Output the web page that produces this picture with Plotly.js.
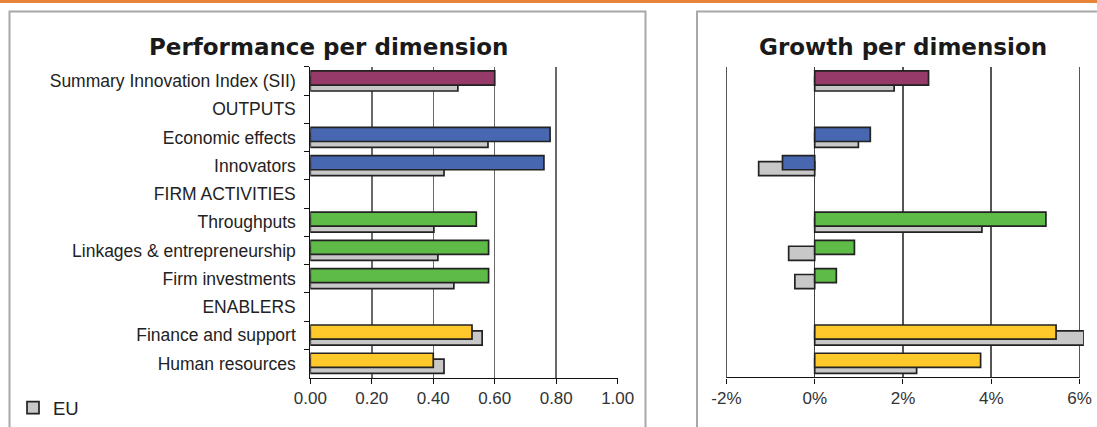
<!DOCTYPE html>
<html>
<head>
<meta charset="utf-8">
<script src="https://cdn.plot.ly/plotly-3.0.1.min.js"></script>
<style>
html,body{margin:0;padding:0;background:#fff;}
#chart{width:1097px;height:427px;}
</style>
</head>
<body>
<div id="chart"></div>
<script>
// ---- data ----
var categories = ['Summary Innovation Index (SII)', 'OUTPUTS', 'Economic effects', 'Innovators',
  'FIRM ACTIVITIES', 'Throughputs', 'Linkages & entrepreneurship', 'Firm investments',
  'ENABLERS', 'Finance and support', 'Human resources'];
var perfCountry = [0.60, null, 0.78, 0.76, null, 0.54, 0.58, 0.58, null, 0.526, 0.40];
var perfEU      = [0.48, null, 0.578, 0.435, null, 0.402, 0.415, 0.467, null, 0.559, 0.435];
var growthCountry = [2.58, null, 1.26, -0.73, null, 5.24, 0.90, 0.49, null, 5.47, 3.76];
var growthEU      = [1.80, null, 0.99, -1.27, null, 3.79, -0.59, -0.45, null, 6.10, 2.31];
var perfTickVals = [0, 0.2, 0.4, 0.6, 0.8, 1.0];
var perfTickText = ['0.00', '0.20', '0.40', '0.60', '0.80', '1.00'];
var growthTickVals = [-2, 0, 2, 4, 6];
var growthTickText = ['-2%', '0%', '2%', '4%', '6%'];
var seriesNames = ['Country', 'EU'];

// ---- styles ----
var PURPLE = '#963A6A', BLUE = '#4767B1', GREEN = '#5EBB47', YELLOW = '#FFC92C', GREY = '#C8C8C8';
var barColors = [PURPLE, null, BLUE, BLUE, null, GREEN, GREEN, GREEN, null, YELLOW, YELLOW];
var W = 1097, H = 427;
function px(x) { return x / W; }
function py(y) { return 1 - y / H; }
var outline = {color: '#222', width: 1.7};
var FONT = 'Liberation Sans, Arial, sans-serif';
var labelFont = {family: FONT, size: 17.5, color: '#222'};
var tickFont = {family: FONT, size: 17, color: '#333'};
var growthMin = -2.05, growthMax = 6.1; // small pad so edge gridline is drawn, EU bar overruns 6%

var traces = [
  {type: 'bar', orientation: 'h', name: seriesNames[1], y: categories, x: perfEU,
   xaxis: 'x', yaxis: 'y', offset: -0.15, width: 0.5,
   marker: {color: GREY, line: outline}, showlegend: true, hoverinfo: 'x'},
  {type: 'bar', orientation: 'h', name: seriesNames[0], y: categories, x: perfCountry,
   xaxis: 'x', yaxis: 'y', offset: -0.36, width: 0.5,
   marker: {color: barColors, line: outline}, showlegend: false, hoverinfo: 'x'},
  {type: 'bar', orientation: 'h', name: seriesNames[1], y: categories, x: growthEU,
   xaxis: 'x2', yaxis: 'y2', offset: -0.15, width: 0.5,
   marker: {color: GREY, line: outline}, showlegend: false, hoverinfo: 'x'},
  {type: 'bar', orientation: 'h', name: seriesNames[0], y: categories, x: growthCountry,
   xaxis: 'x2', yaxis: 'y2', offset: -0.36, width: 0.5,
   marker: {color: barColors, line: outline}, showlegend: false, hoverinfo: 'x'}
];

var yDomain = [py(379.3), py(67.3)];
var x2Zero = 814.7, x2PerUnit = (1080 - 727) / 8;

var layout = {
  width: W, height: H,
  margin: {l: 0, r: 0, t: 0, b: 0},
  paper_bgcolor: '#fff', plot_bgcolor: 'rgba(0,0,0,0)',
  barmode: 'overlay',
  showlegend: true,
  legend: {x: px(13), y: py(410), xanchor: 'left', yanchor: 'middle',
    font: {family: FONT, size: 18.5, color: '#222'},
    bgcolor: 'rgba(0,0,0,0)', itemwidth: 30},
  xaxis: {domain: [px(310.3), px(617.7)], range: [0, 1], anchor: 'y',
    tickmode: 'array', tickvals: perfTickVals, ticktext: perfTickText,
    showgrid: true, gridcolor: '#6a6a6a', gridwidth: 1.5, zeroline: false,
    showline: true, linecolor: '#111', linewidth: 1,
    ticks: 'outside', ticklen: 5, tickcolor: '#111',
    tickfont: tickFont, fixedrange: true},
  yaxis: {domain: yDomain, anchor: 'x', type: 'category',
    categoryorder: 'array', categoryarray: categories, autorange: 'reversed',
    showgrid: false, zeroline: false, showline: true, linecolor: '#111', linewidth: 1,
    ticks: 'outside', ticklen: 5, tickcolor: '#111', tickson: 'boundaries',
    ticklabelstandoff: 10,
    tickfont: labelFont, fixedrange: true},
  xaxis2: {domain: [px(x2Zero + growthMin * x2PerUnit), px(x2Zero + growthMax * x2PerUnit)],
    range: [growthMin, growthMax], anchor: 'y2',
    tickmode: 'array', tickvals: growthTickVals, ticktext: growthTickText,
    showgrid: true, gridcolor: '#555', gridwidth: 1.5,
    zeroline: true, zerolinecolor: '#444', zerolinewidth: 1.5,
    showline: false,
    ticks: 'outside', ticklen: 5, tickcolor: '#111',
    tickfont: tickFont, fixedrange: true},
  yaxis2: {domain: yDomain, anchor: 'x2', type: 'category',
    categoryorder: 'array', categoryarray: categories, autorange: 'reversed',
    showgrid: false, zeroline: false, showline: false, showticklabels: false,
    ticks: '', fixedrange: true},
  shapes: [
    {type: 'rect', xref: 'paper', yref: 'paper', x0: 0, x1: 1, y0: py(3), y1: 1,
     fillcolor: '#E8833A', line: {width: 0}},
    {type: 'rect', xref: 'paper', yref: 'paper', x0: px(9.5), x1: px(645.5), y0: py(440), y1: py(11.5),
     fillcolor: 'rgba(0,0,0,0)', line: {color: '#A8A8A8', width: 2}, layer: 'below'},
    {type: 'rect', xref: 'paper', yref: 'paper', x0: px(697), x1: px(1120), y0: py(440), y1: py(11.5),
     fillcolor: 'rgba(0,0,0,0)', line: {color: '#A8A8A8', width: 2}, layer: 'below'},
    // growth axis baseline, from -2% to 6%
    {type: 'line', xref: 'x2', yref: 'y2 domain', x0: growthTickVals[0], x1: growthTickVals[growthTickVals.length - 1], y0: 0, y1: 0,
     line: {color: '#111', width: 1}}
  ],
  annotations: [
    {text: '<b>Performance per dimension</b>', xref: 'paper', yref: 'paper',
     x: px(329), y: py(47), xanchor: 'center', yanchor: 'middle', showarrow: false,
     font: {family: 'DejaVu Sans, Verdana, sans-serif', size: 23, color: '#1a1a1a'}},
    {text: '<b>Growth per dimension</b>', xref: 'paper', yref: 'paper',
     x: px(903), y: py(47), xanchor: 'center', yanchor: 'middle', showarrow: false,
     font: {family: 'DejaVu Sans, Verdana, sans-serif', size: 23, color: '#1a1a1a'}}
  ]
};

Plotly.newPlot('chart', traces, layout, {displayModeBar: false, staticPlot: true});
</script>
</body>
</html>
